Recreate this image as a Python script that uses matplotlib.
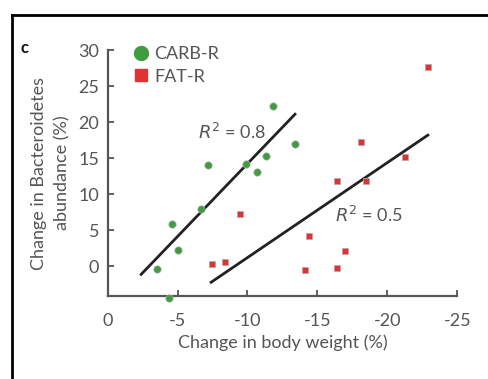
import matplotlib.pyplot as plt
from matplotlib.lines import Line2D
import numpy as np

# CARB-R group (green circles)
carb_weight = [-3.5, -4.6, -5.0, -4.4, -6.7, -7.2, -9.9, -10.7, -11.3, -11.8, -13.4]
carb_bact = [-0.3, 5.9, 2.3, -4.4, 8.0, 14.0, 14.2, 13.1, 15.3, 22.3, 17.0]

# FAT-R group (red squares)
fat_weight = [-7.5, -8.4, -9.5, -22.9, -18.1, -21.3, -16.4, -18.5, -14.4, -17.0, -14.1, -16.4]
fat_bact = [0.4, 0.6, 7.3, 27.7, 17.2, 15.2, 11.8, 11.9, 4.2, 2.1, -0.5, -0.2]

# regression line end points
carb_fit_x = [-2.4, -13.4]
carb_fit_y = [-1.1, 21.1]
fat_fit_x = [-7.4, -22.9]
fat_fit_y = [-2.2, 18.2]

xticks = [0, -5, -10, -15, -20, -25]
yticks = [0, 5, 10, 15, 20, 25, 30]

green = "#3f9c3f"
red = "#e03232"
grey = "#555555"
font = ["Lato", "DejaVu Sans"]

plt.rcParams["font.family"] = font

fig = plt.figure(figsize=(4.89, 3.79), dpi=100)
ax = fig.add_axes([0.22, 0.219, 0.715, 0.649])

ax.plot(carb_fit_x, carb_fit_y, color="#222222", lw=2, zorder=2)
ax.plot(fat_fit_x, fat_fit_y, color="#222222", lw=2, zorder=2)

ax.scatter(carb_weight, carb_bact, s=28, marker="o", color=green,
           edgecolors="#aaaaaa", linewidths=0.5, zorder=3, clip_on=False)
ax.scatter(fat_weight, fat_bact, s=22, marker="s", color=red,
           edgecolors="#aaaaaa", linewidths=0.5, zorder=3, clip_on=False)

ax.text(-8.9, 18.7, r"$R^2$ = 0.8", fontsize=13, color=grey,
        ha="center", va="center")
ax.text(-18.7, 7.2, r"$R^2$ = 0.5", fontsize=13, color=grey,
        ha="center", va="center")

ax.set_xlim(0, -25)
ax.set_ylim(-4.1, 30)
ax.set_xticks(xticks)
ax.set_xticklabels([str(t) for t in xticks])
ax.set_yticks(yticks)
ax.tick_params(direction="in", length=4, width=1.2, colors="#444444",
               labelcolor=grey, labelsize=13)
ax.tick_params(axis="x", pad=12)
ax.tick_params(axis="y", pad=6)

for side in ["top", "right"]:
    ax.spines[side].set_visible(False)
ax.spines["left"].set_bounds(-4.1, 30)
for side in ["left", "bottom"]:
    ax.spines[side].set_color("#555555")
    ax.spines[side].set_linewidth(1.6)

ax.set_xlabel("Change in body weight (%)", fontsize=13, color=grey, labelpad=4)
ax.set_ylabel("Change in Bacteroidetes\nabundance (%)", fontsize=13,
              color=grey, labelpad=6)
ax.yaxis.label.set_linespacing(1.5)

handles = [
    Line2D([], [], marker="o", ls="", color=green, markersize=10, label="CARB-R"),
    Line2D([], [], marker="s", ls="", color=red, markersize=9, label="FAT-R"),
]
leg = ax.legend(handles=handles, loc="upper left", bbox_to_anchor=(0.035, 1.045),
                frameon=False, fontsize=13, handletextpad=0.0, handlelength=1.5,
                labelspacing=0.35, borderaxespad=0)
for t in leg.get_texts():
    t.set_color(grey)

fig.text(0.05, 0.873, "c", fontsize=12, fontweight="bold", color="#111111",
         ha="center", va="center")

# black frame on top and left of the panel
fig.add_artist(Line2D([0.0245, 1.0], [0.961, 0.961], color="black", lw=2))
fig.add_artist(Line2D([0.0245, 0.0245], [0.0, 0.961], color="black", lw=2))

fig.savefig("out.png", dpi=100)
